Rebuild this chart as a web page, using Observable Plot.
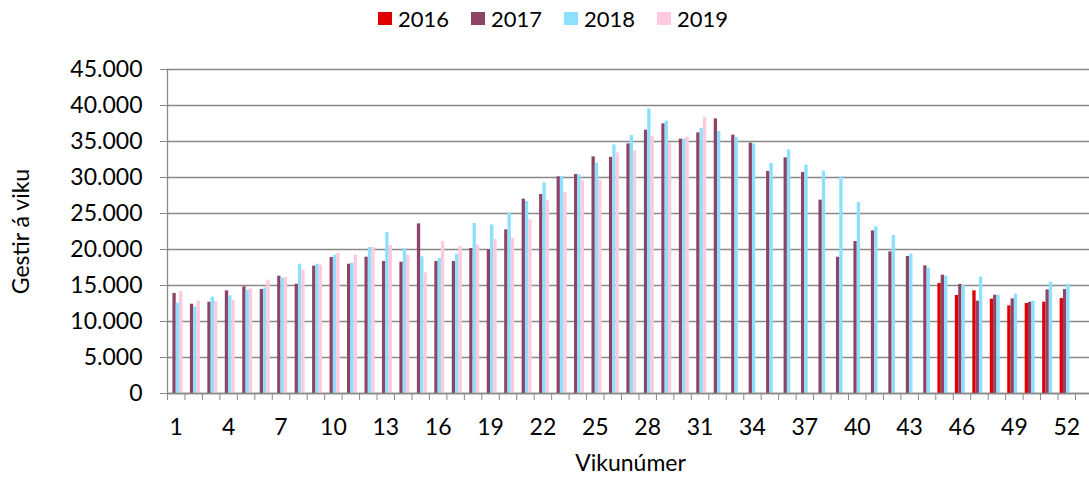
<!DOCTYPE html>
<html>
<head>
<meta charset="utf-8">
<script src="https://cdn.jsdelivr.net/npm/d3@7"></script>
<script src="https://cdn.jsdelivr.net/npm/@observablehq/plot@0.6"></script>
<style>
  html, body { margin: 0; padding: 0; background: #fff; }
  #legend { height: 36px; width: 1089px; display: flex; justify-content: center; align-items: center;
    padding-left: 17px; box-sizing: border-box; font-family: Lato, sans-serif; font-size: 22px; color: #000; }
  .item { display: flex; align-items: center; margin: 0 11px; }
  .sw { width: 14px; height: 13px; margin-right: 6px; }
</style>
</head>
<body>
<div id="legend"></div>
<div id="chart"></div>
<script>
const weeks = d3.range(1, 53);
const labelWeeks = [1, 4, 7, 10, 13, 16, 19, 22, 25, 28, 31, 34, 37, 40, 43, 46, 49, 52];
const yTicks = [0, 5000, 10000, 15000, 20000, 25000, 30000, 35000, 40000, 45000];
const years = ["2016", "2017", "2018", "2019"];
const colors = ["#E00000", "#8E4466", "#8BE1FF", "#FFC9DE"];

const y2016 = [null, null, null, null, null, null, null, null, null, null,
  null, null, null, null, null, null, null, null, null, null,
  null, null, null, null, null, null, null, null, null, null,
  null, null, null, null, null, null, null, null, null, null,
  null, null, null, null, 15280, 13610, 14260, 13100, 12170, 12500, 12680, 13190];
const y2017 = [13890, 12400, 12680, 14260, 14810, 14440, 16290, 15180, 17680, 18890,
  17960, 18930, 18330, 18240, 23560, 18330, 18330, 20140, 19950, 22730,
  26990, 27640, 30090, 30420, 32860, 32800, 34670, 36570, 37450, 35320,
  36200, 38140, 35880, 34770, 30840, 32730, 30700, 26850, 18930, 21110,
  22590, 19670, 19030, 17730, 16430, 15140, 12820, 13650, 13140, 12680, 14390, 14440];
const y2018 = [12580, 12030, 13380, 13560, 14350, 14670, 16010, 17960, 17960, 19210,
  18100, 20280, 22360, 20090, 18980, 18750, 19350, 23610, 23420, 25040,
  26670, 29250, 30140, 30360, 31990, 34530, 35840, 39530, 37820, 35320,
  36810, 36390, 35560, 34670, 31950, 33840, 31710, 30880, 30090, 26530,
  23150, 21940, 19350, 17410, 16290, 15000, 16150, 13650, 13790, 12820, 15460, 15180];
const y2019 = [14170, 12860, 12720, 12960, 14530, 15740, 16110, 17130, 17820, 19440,
  19210, 20320, 20550, 19210, 16750, 21110, 20420, 20600, 21390, 21570,
  24110, 26850, 27920, 29530, 29630, 33420, 33700, 35740, 34770, 35600,
  38380, null, null, null, null, null, null, null, null, null,
  null, null, null, null, null, null, null, null, null, null, null, null];
const series = [y2016, y2017, y2018, y2019];

// legend
const legend = document.getElementById("legend");
years.forEach((yr, i) => {
  const it = document.createElement("div");
  it.className = "item";
  it.innerHTML = `<div class="sw" style="background:${colors[i]}"></div><span>${yr}</span>`;
  legend.appendChild(it);
});

const W = 1089, H = 441, mL = 167, mR = 14, mT = 33, mB = 84;
const pIn = 0.24, pOut = 0.12;
const step = (W - mL - mR) / (weeks.length - pIn + 2 * pOut);
const bw = step * (1 - pIn);
const sub = bw / 4;
const gray = "#898989";
const fmt = d3.formatLocale({decimal: ",", thousands: ".", grouping: [3], currency: ["", ""]}).format(",d");

const barMarks = series.map((vals, i) =>
  Plot.barY(
    weeks.map((w, j) => ({week: w, value: vals[j]})).filter(d => d.value != null),
    {x: "week", y: "value", fill: colors[i], insetLeft: i * sub, insetRight: (3 - i) * sub}
  )
);

const chart = Plot.plot({
  width: W, height: H,
  marginLeft: mL, marginRight: mR, marginTop: mT, marginBottom: mB,
  style: {fontFamily: "Lato, sans-serif", background: "#fff", color: "#000"},
  x: {type: "band", domain: weeks, paddingInner: pIn, paddingOuter: pOut, round: false},
  y: {domain: [0, 45000]},
  marks: [
    Plot.ruleY(yTicks, {stroke: gray, strokeWidth: 1.3, insetRight: -mR}),
    Plot.frame({anchor: "left", stroke: gray, strokeWidth: 1.3}),
    ...barMarks,
    Plot.ruleY([0], {stroke: gray, strokeWidth: 1.5, insetRight: -mR}),
    Plot.axisY({ticks: yTicks, tickFormat: fmt, tickSize: 7, tickPadding: 18, stroke: gray, fill: "#000", fontSize: 23, label: null}),
    Plot.axisX({ticks: weeks, tickSize: 7, tickFormat: () => "", dx: -step / 2, stroke: gray, label: null}),
    Plot.axisX({ticks: [52], tickSize: 7, tickFormat: () => "", dx: step / 2, stroke: gray, label: null}),
    Plot.axisX({ticks: labelWeeks, tickSize: 0, tickPadding: 25, fontSize: 23, fill: "#000", label: null}),
    Plot.text(["Vikunúmer"], {text: d => d, frameAnchor: "bottom", dx: 9, dy: 70, fontSize: 23, lineAnchor: "middle", fill: "#000"}),
    Plot.text(["Gestir á viku"], {text: d => d, frameAnchor: "left", textAnchor: "middle", dx: -146, rotate: -90, fontSize: 23, fill: "#000"})
  ]
});
document.getElementById("chart").appendChild(chart);
</script>
</body>
</html>
